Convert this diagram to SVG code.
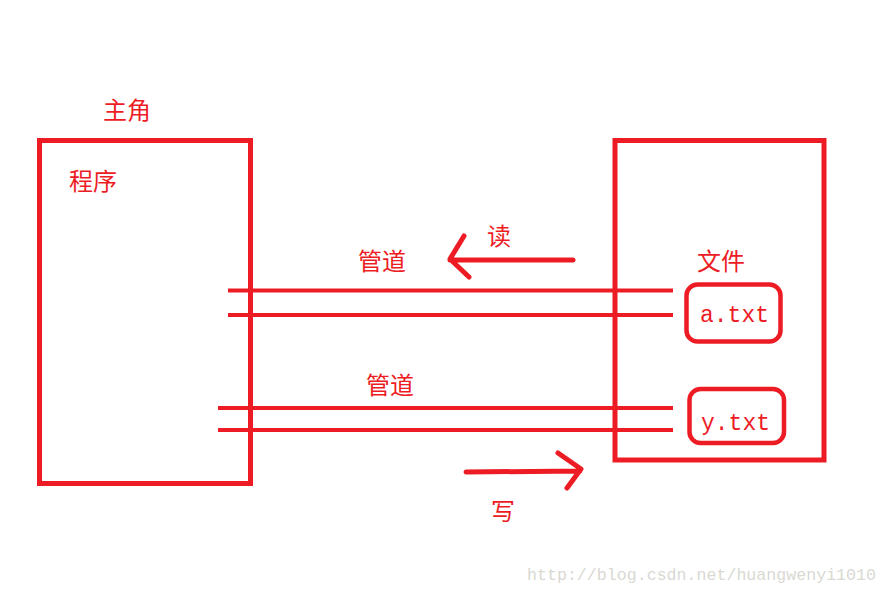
<svg xmlns="http://www.w3.org/2000/svg" width="887" height="594" viewBox="0 0 887 594">
<style>
.box{fill:none;stroke:#ed1c24;stroke-width:5}
.file{fill:none;stroke:#ed1c24;stroke-width:4.5}
.pipe{stroke:#ed1c24;stroke-width:4;fill:none}
.arr{stroke:#ed1c24;stroke-width:5;fill:none;stroke-linecap:round;stroke-linejoin:round}
.cjk{font-family:"Noto Sans CJK SC","Noto Sans",sans-serif;font-size:24px;fill:#ed1c24}
.mono{font-family:"Liberation Mono","DejaVu Sans Mono",monospace;font-size:23px;fill:#ed1c24}
.wm{font-family:"Liberation Mono","DejaVu Sans Mono",monospace;font-size:16.6px;fill:#d9d9d2}
</style>
<rect width="887" height="594" fill="#ffffff"/>
<g id="program">
<rect class="box" x="39.5" y="140.5" width="211" height="343"/>
<text class="cjk" x="103" y="119">主角</text>
<text class="cjk" x="69" y="190">程序</text>
</g>
<g id="files">
<rect class="box" x="615" y="140.5" width="209" height="319.5"/>
<text class="cjk" x="697" y="270">文件</text>
</g>
<g id="a-txt">
<rect class="file" x="686.5" y="284.5" width="94" height="57" rx="11"/>
<text class="mono" x="700" y="322">a.txt</text>
</g>
<g id="y-txt">
<rect class="file" x="689.5" y="389" width="94.5" height="54" rx="11"/>
<text class="mono" x="701" y="430">y.txt</text>
</g>
<g id="connectors">
<line class="pipe" x1="228" y1="290.5" x2="673" y2="290.5"/>
<line class="pipe" x1="228" y1="315" x2="673" y2="315"/>
<line class="pipe" x1="218" y1="408" x2="673" y2="408"/>
<line class="pipe" x1="218" y1="430" x2="673" y2="430"/>
<path class="arr" d="M573 260 L450 260 M464 236 L450 259 L469 277"/>
<path class="arr" d="M466 472 L580 471 M558 453 L581 469 L567 488"/>
</g>
<g id="labels">
<text class="cjk" x="358" y="270">管道</text>
<text class="cjk" x="487" y="245">读</text>
<text class="cjk" x="366" y="394">管道</text>
<text class="cjk" x="491" y="520">写</text>
</g>
<text class="wm" x="527" y="580" textLength="349">http://blog.csdn.net/huangwenyi1010</text>
</svg>
